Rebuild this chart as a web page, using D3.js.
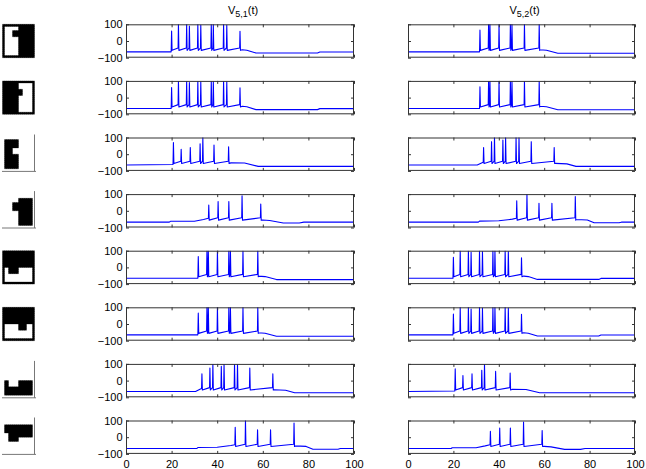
<!DOCTYPE html>
<html>
<head>
<meta charset="utf-8">
<script src="https://cdn.jsdelivr.net/npm/d3@7"></script>
<style>
  body { margin: 0; background: #fff; }
  svg { display: block; font-family: "Liberation Sans", Arial, sans-serif; }
</style>
</head>
<body>
<svg id="chart"></svg>
<script>
const width = 646;
const height = 469;

// tick labels
const xTicks = [0, 20, 40, 60, 80, 100];
const yTicks = [-100, 0, 100];
const titles = ['5,1', '5,2'];

// spike patterns: spike times, peak values, resting trace before/after the burst
const spikeTimesA = [20, 23, 26.6, 27.8, 31.5, 32.8, 37.4, 38.3, 42.8, 44.2, 50];
const spikePeaksA = [60, 100, 100, 90, 100, 95, 100, 100, 100, 95, 58];
const restBeforeA = [[0, -65], [19.8, -65]];
const restAfterA = [[51, -52], [53, -55], [57, -72], [84, -72], [85, -66], [100, -66]];

const spikeTimesB = [20.8, 24.2, 28.2, 32.5, 33.7, 38.6, 45];
const spikePeaksB = [70, 30, 40, 62, 100, 55, 45];
const restBeforeB = [[0, -65], [20.6, -62]];
const restAfterB = [[46, -52], [52, -53], [58, -73], [100, -73]];

const spikeTimesC = [36.3, 40.4, 45.1, 50.9, 59.1];
const spikePeaksC = [35, 55, 55, 90, 40];
const restBeforeC = [[0, -68], [19, -68], [19.5, -63], [30, -63], [34, -52], [36.1, -45]];
const restAfterC = [[60, -55], [63, -58], [69, -73], [76, -73], [78, -68], [100, -68]];

const spikeTimesD = [31.7, 35.5, 36.1, 40.1, 45.1, 45.8, 51.3, 57.8];
const spikePeaksD = [65, 100, 100, 100, 100, 100, 100, 100];
const restBeforeD = [[0, -65], [31.5, -65]];
const restAfterD = [[58, -52], [61, -55], [66, -73], [100, -73]];

const spikeTimesE = [33.3, 36.8, 38.1, 41.8, 43, 47.6, 48.9, 54.3, 64.4];
const spikePeaksE = [40, 75, 100, 85, 100, 100, 100, 75, 40];
const restBeforeE = [[0, -65], [30.5, -65], [33.1, -48]];
const restAfterE = [[65, -55], [70, -58], [74, -73], [100, -73]];

const spikeTimesF = [47.9, 52.4, 57.7, 63.4, 73.7];
const spikePeaksF = [60, 100, 45, 45, 85];
const restBeforeF = [[0, -68], [31, -68], [31.5, -62], [40, -60], [46, -50], [47.7, -45]];
const restAfterF = [[74, -52], [79, -55], [82, -72], [93, -72], [94, -68], [100, -68]];

const patterns = {
    A: [spikeTimesA, spikePeaksA, restBeforeA, restAfterA],
    B: [spikeTimesB, spikePeaksB, restBeforeB, restAfterB],
    C: [spikeTimesC, spikePeaksC, restBeforeC, restAfterC],
    D: [spikeTimesD, spikePeaksD, restBeforeD, restAfterD],
    E: [spikeTimesE, spikePeaksE, restBeforeE, restAfterE],
    F: [spikeTimesF, spikePeaksF, restBeforeF, restAfterF]
};

// which pattern each row shows, left column (V5,1) and right column (V5,2)
const leftRows = ['A', 'A', 'B', 'C', 'D', 'D', 'E', 'F'];
const rightRows = ['D', 'D', 'E', 'F', 'A', 'A', 'B', 'C'];

// input images, 16x16 bitmaps ('#' = black)
const iconBitmaps = [
    ['################', '#.......########', '#.......########', '#....###########', '#....###########', '#....###########',
     '#.......########', '#.......########', '#.......########', '#.......########', '#.......########', '#.......########',
     '#.......########', '#.......########', '#.......########', '################'],
    ['################', '########.......#', '########.......#', '########.......#', '##########.....#', '##########.....#',
     '##########.....#', '########.......#', '########.......#', '########.......#', '########.......#', '########.......#',
     '########.......#', '########.......#', '########.......#', '################'],
    ['................', '.#######........', '.#######........', '.#######........', '.#######........', '.####...........',
     '.####...........', '.####...........', '.#######........', '.#######........', '.#######........', '.#######........',
     '.#######........', '.#######........', '.#######........', '................'],
    ['................', '................', '........#######.', '........#######.', '.....##########.', '.....##########.',
     '.....##########.', '.....##########.', '........#######.', '........#######.', '........#######.', '........#######.',
     '........#######.', '........#######.', '........#######.', '................'],
    ['################', '################', '################', '################', '################', '################',
     '################', '################', '#..#####.......#', '#..#####.......#', '#..#####.......#', '#..............#',
     '#..............#', '#..............#', '#..............#', '################'],
    ['################', '################', '################', '################', '################', '################',
     '################', '################', '#.......####...#', '#.......####...#', '#.......####...#', '#..............#',
     '#..............#', '#..............#', '#..............#', '################'],
    ['................', '................', '................', '................', '................', '................',
     '................', '................', '.##.....#######.', '.##.....#######.', '.##.....#######.', '.##############.',
     '.##############.', '.##############.', '.##############.', '................'],
    ['................', '................', '.##############.', '.##############.', '.##############.', '.##############.',
     '...############.', '...############.', '...#####........', '...#####........', '................', '................',
     '................', '................', '................', '................']
];
const iconFramed = [true, true, false, false, true, true, false, false];

// layout
const columns = [[126, 354], [408, 635]];
const firstTop = 24.3;
const rowStep = 56.6;
const rowHeight = 33.4;
const nRows = leftRows.length;

const svg = d3.select('#chart')
    .attr('width', width)
    .attr('height', height);

// trace points: rest before, three points per spike, rest after
const tracePoints = key => {
    const [times, peaks, before, after] = patterns[key];
    const pts = before.map(d => ({t: d[0], v: d[1]}));
    times.forEach((t, i) => {
        pts.push({t: t - 0.15, v: -42});
        pts.push({t: t, v: peaks[i]});
        pts.push({t: t + 0.2, v: -56});
    });
    after.forEach(d => pts.push({t: d[0], v: d[1]}));
    return pts;
};

const defs = svg.append('defs');

columns.forEach((col, c) => {
    const rows = c === 0 ? leftRows : rightRows;
    const x = d3.scaleLinear().domain([0, 100]).range(col);

    rows.forEach((key, r) => {
        const top = firstTop + r * rowStep;
        const y = d3.scaleLinear().domain([-100, 100]).range([top + rowHeight, top]);
        const g = svg.append('g');
        const clipId = `clip-${c}-${r}`;

        defs.append('clipPath').attr('id', clipId)
            .append('rect')
            .attr('x', col[0]).attr('y', top)
            .attr('width', col[1] - col[0]).attr('height', rowHeight);

        // trace
        g.append('path')
            .datum(tracePoints(key))
            .attr('clip-path', `url(#${clipId})`)
            .attr('fill', 'none')
            .attr('stroke', '#0000ff')
            .attr('stroke-width', 1.1)
            .attr('stroke-linejoin', 'round')
            .attr('d', d3.line().x(d => x(d.t)).y(d => y(d.v)));

        // axes, ticks pointing inwards on all four sides
        const isBottom = r === nRows - 1;
        g.append('g')
            .attr('transform', `translate(0,${top + rowHeight})`)
            .call(d3.axisBottom(x).tickValues(xTicks).tickSizeInner(-3).tickSizeOuter(0).tickPadding(6)
                .tickFormat(isBottom ? d3.format('') : ''));
        g.append('g')
            .attr('transform', `translate(0,${top})`)
            .call(d3.axisTop(x).tickValues(xTicks).tickSizeInner(-3).tickSizeOuter(0).tickFormat(''));
        const axL = g.append('g')
            .attr('transform', `translate(${col[0]},0)`)
            .call(d3.axisLeft(y).tickValues(yTicks).tickSizeInner(-3).tickSizeOuter(0).tickPadding(6)
                .tickFormat(c === 0 ? d3.format('') : ''));
        g.append('g')
            .attr('transform', `translate(${col[1]},0)`)
            .call(d3.axisRight(y).tickValues(yTicks).tickSizeInner(-3).tickSizeOuter(0).tickFormat(''));

        g.selectAll('.domain').remove();
        g.selectAll('.tick line').attr('stroke', '#333');
        g.selectAll('.tick text')
            .attr('fill', '#000')
            .attr('font-size', 11)
            .attr('font-family', '"Liberation Sans", Arial, sans-serif');
        axL.selectAll('.tick text').attr('x', -3.5);

        g.append('rect')
            .attr('x', col[0] + 0.5).attr('y', top + 0.5)
            .attr('width', col[1] - col[0] - 1).attr('height', rowHeight - 1)
            .attr('fill', 'none')
            .attr('stroke', '#333')
            .attr('stroke-width', 1);
    });

    // title
    const title = svg.append('text')
        .attr('x', (col[0] + col[1]) / 2 + 3)
        .attr('y', 14)
        .attr('text-anchor', 'middle')
        .attr('font-size', 11)
        .attr('fill', '#000');
    title.append('tspan').text('V');
    title.append('tspan').attr('font-size', 9).attr('dy', 3).text(titles[c]);
    title.append('tspan').attr('dy', -3).text('(t)');
});

// input images on the left, one path per image so the cells join without seams
iconBitmaps.forEach((bmp, r) => {
    const top = firstTop + r * rowStep;
    const cx = d3.scaleBand().domain(d3.range(16)).range([2.5, 34.5]);
    const cy = d3.scaleBand().domain(d3.range(16)).range([top, top + rowHeight]);
    const p = d3.path();
    bmp.forEach((line, i) => line.split('').forEach((ch, j) => {
        if (ch === '#') p.rect(cx(j), cy(i), cx.bandwidth(), cy.bandwidth());
    }));
    const g = svg.append('g');
    g.append('path')
        .attr('d', p.toString())
        .attr('fill', '#000')
        .attr('stroke', '#000')
        .attr('stroke-width', 0.3);
    if (!iconFramed[r]) {
        g.append('line')
            .attr('x1', 34.5).attr('x2', 34.5)
            .attr('y1', top - 3).attr('y2', top + rowHeight + 0.5)
            .attr('stroke', '#777');
        g.append('line')
            .attr('x1', 2).attr('x2', 36)
            .attr('y1', top + rowHeight + 0.5).attr('y2', top + rowHeight + 0.5)
            .attr('stroke', '#777');
    }
});
</script>
</body>
</html>
